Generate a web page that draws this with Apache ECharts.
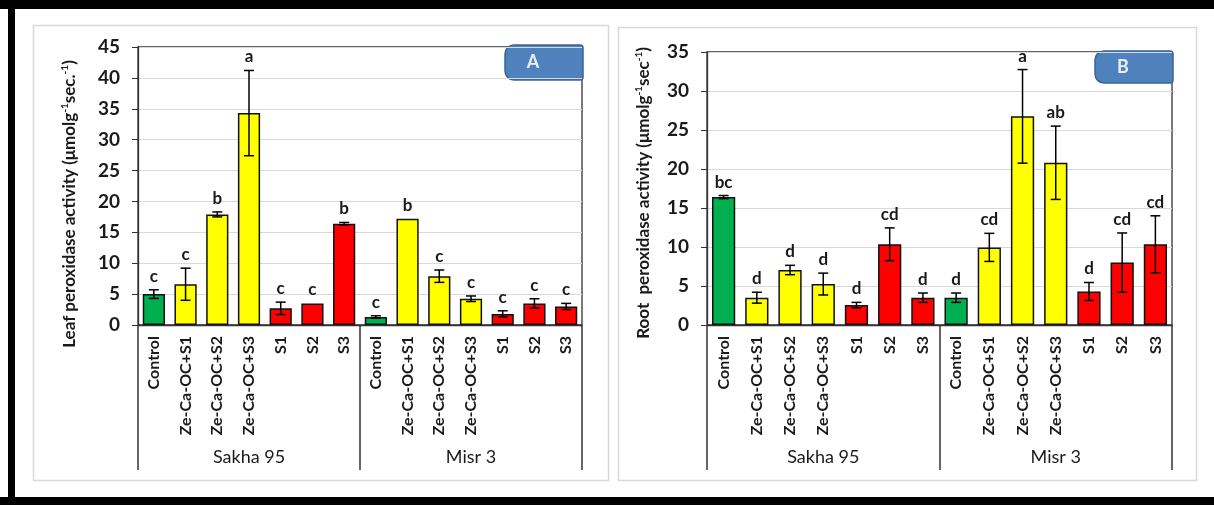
<!DOCTYPE html>
<html>
<head>
<meta charset="utf-8">
<script src="https://cdn.jsdelivr.net/npm/echarts@6/dist/echarts.min.js"></script>
<style>
  html, body { margin: 0; padding: 0; background: #ffffff; }
  #chart { width: 1214px; height: 505px; }
</style>
</head>
<body>
<div id="chart"></div>
<script>
// Treatments within each cultivar, and the two cultivars
const treatments = ['Control', 'Ze-Ca-OC+S1', 'Ze-Ca-OC+S2', 'Ze-Ca-OC+S3', 'S1', 'S2', 'S3'];
const cultivars = ['Sakha 95', 'Misr 3'];
const treatmentColors = ['#00B050', '#FFFF00', '#FFFF00', '#FFFF00', '#FF0000', '#FF0000', '#FF0000'];

// Panel A: leaf peroxidase activity (Sakha 95 then Misr 3)
const leafMean = [5.0, 6.6, 17.9, 34.3, 2.7, 3.5, 16.4, 1.3, 17.2, 7.9, 4.25, 1.8, 3.5, 3.0];
const leafErr = [0.7, 2.6, 0.4, 6.9, 1.0, 0, 0.2, 0.2, 0, 1.0, 0.45, 0.5, 0.75, 0.5];
const leafLetters = ['c', 'c', 'b', 'a', 'c', 'c', 'b', 'c', 'b', 'c', 'c', 'c', 'c', 'c'];
const leafTicks = { min: 0, max: 45, interval: 5 };

// Panel B: root peroxidase activity (Sakha 95 then Misr 3)
const rootMean = [16.4, 3.5, 7.05, 5.25, 2.55, 10.35, 3.5, 3.5, 9.95, 26.75, 20.8, 4.3, 8.0, 10.35];
const rootErr = [0.2, 0.7, 0.6, 1.4, 0.35, 2.1, 0.6, 0.6, 1.8, 6.0, 4.7, 1.15, 3.8, 3.65];
const rootLetters = ['bc', 'd', 'd', 'd', 'd', 'cd', 'd', 'd', 'cd', 'a', 'ab', 'd', 'cd', 'cd'];
const rootTicks = { min: 0, max: 35, interval: 5 };

const categories = cultivars.flatMap(() => treatments);

const FONT = 'Lato, "Liberation Sans", sans-serif';
const DARK = '#333333';
const INK = '#1a1a1a';

function barData(means) {
  return means.map((v, i) => ({
    value: v,
    itemStyle: { color: treatmentColors[i % treatments.length] }
  }));
}

function errorSeries(gridIdx, means, errs, letters) {
  return {
    type: 'custom',
    xAxisIndex: gridIdx * 2,
    yAxisIndex: gridIdx,
    z: 5,
    silent: true,
    encode: { x: 0, y: 1 },
    data: means.map((v, i) => [i, v, errs[i]]),
    renderItem: function (params, api) {
      const idx = api.value(0);
      const mean = api.value(1);
      const err = api.value(2);
      const top = api.coord([idx, mean + err]);
      const bot = api.coord([idx, mean - err]);
      const half = 5;
      const line = { stroke: '#000', lineWidth: 1.5 };
      const children = [];
      if (err > 0) {
        children.push(
          { type: 'line', shape: { x1: top[0], y1: top[1], x2: bot[0], y2: bot[1] }, style: line },
          { type: 'line', shape: { x1: top[0] - half, y1: top[1], x2: top[0] + half, y2: top[1] }, style: line },
          { type: 'line', shape: { x1: bot[0] - half, y1: bot[1], x2: bot[0] + half, y2: bot[1] }, style: line }
        );
      }
      children.push({
        type: 'text',
        style: {
          x: top[0], y: top[1] - 5,
          text: letters[params.dataIndex],
          align: 'center', verticalAlign: 'bottom',
          fill: INK, font: 'bold 17px ' + FONT
        }
      });
      return { type: 'group', children: children };
    }
  };
}

function grids() {
  return [
    { left: 138, right: 632, top: 47, bottom: 180, show: true, borderColor: DARK, borderWidth: 1.3, backgroundColor: 'transparent' },
    { left: 707, right: 42, top: 52, bottom: 180, show: true, borderColor: DARK, borderWidth: 1.3, backgroundColor: 'transparent' }
  ];
}

function xAxes(gridIdx) {
  return [
    {
      type: 'category', gridIndex: gridIdx, data: categories, position: 'bottom',
      axisLine: { show: true, lineStyle: { color: DARK, width: 1.3 } },
      axisTick: { show: false },
      axisLabel: { interval: 0, rotate: 90, margin: 11, color: INK, fontWeight: 'bold', fontSize: 16, fontFamily: FONT }
    },
    {
      type: 'category', gridIndex: gridIdx, data: cultivars, position: 'bottom',
      axisLine: { show: false },
      axisTick: { show: true, length: 145, interval: 0, lineStyle: { color: DARK, width: 1.5 } },
      axisLabel: { interval: 0, margin: 123, color: INK, fontSize: 18, fontFamily: FONT }
    }
  ];
}

function yAxis(gridIdx, t) {
  return {
    type: 'value', gridIndex: gridIdx, min: t.min, max: t.max, interval: t.interval,
    axisLine: { show: true, lineStyle: { color: DARK, width: 1.3 } },
    axisTick: { show: true, length: 6, lineStyle: { color: DARK } },
    axisLabel: { margin: 18, color: INK, fontWeight: 'bold', fontSize: 19, fontFamily: FONT },
    splitLine: { show: true, lineStyle: { color: '#D9D9D9', width: 1 } }
  };
}

function barSeries(gridIdx, means) {
  return {
    type: 'bar', xAxisIndex: gridIdx * 2, yAxisIndex: gridIdx,
    data: barData(means), barWidth: '70%',
    itemStyle: { borderColor: '#111', borderWidth: 1.5 },
    silent: true
  };
}

function titleText(x, y, main, tail) {
  // Rotated axis title with two superscript "-1" exponents
  return {
    type: 'text', x: x, y: y, rotation: Math.PI / 2, silent: true,
    style: {
      text: '{m|' + main + '}{s|-1}{m|' + tail + '}{s|-1}{m|)}',
      align: 'center', verticalAlign: 'middle',
      rich: {
        m: { fontSize: 17, fontWeight: 'bold', fontFamily: FONT, fill: INK, lineHeight: 20 },
        s: { fontSize: 10, fontWeight: 'bold', fontFamily: FONT, fill: INK, lineHeight: 10, verticalAlign: 'top' }
      }
    }
  };
}

function panelTag(x, y, w, h, letter, tx) {
  return {
    type: 'group', silent: true,
    children: [
      { type: 'rect', shape: { x: x, y: y, width: w, height: h, r: [9, 3, 3, 9] },
        style: { fill: '#4F81BD', stroke: '#3B6495', lineWidth: 1.5 } },
      { type: 'text', style: { x: tx, y: y + h / 2, text: letter, align: 'center', verticalAlign: 'middle',
        fill: '#E9EFF8', font: 'bold 18px ' + FONT } }
    ]
  };
}

const chart = echarts.init(document.getElementById('chart'), null, { renderer: 'canvas' });
chart.setOption({
  animation: false,
  backgroundColor: '#ffffff',
  grid: grids(),
  xAxis: xAxes(0).concat(xAxes(1)),
  yAxis: [yAxis(0, leafTicks), yAxis(1, rootTicks)],
  series: [
    barSeries(0, leafMean),
    errorSeries(0, leafMean, leafErr, leafLetters),
    barSeries(1, rootMean),
    errorSeries(1, rootMean, rootErr, rootLetters)
  ],
  graphic: [
    // outer black frame
    { type: 'rect', shape: { x: 0, y: 0, width: 1214, height: 9 }, style: { fill: '#000' }, silent: true },
    { type: 'rect', shape: { x: 8, y: 0, width: 7, height: 505 }, style: { fill: '#000' }, silent: true },
    { type: 'rect', shape: { x: 0, y: 497, width: 1214, height: 8 }, style: { fill: '#000' }, silent: true },
    // light panel frames
    { type: 'rect', shape: { x: 33.5, y: 25.5, width: 575, height: 455 }, style: { fill: 'none', stroke: '#D9D9D9', lineWidth: 1.5 }, silent: true, z: -1 },
    { type: 'rect', shape: { x: 618.5, y: 27.5, width: 578, height: 453 }, style: { fill: 'none', stroke: '#D9D9D9', lineWidth: 1.5 }, silent: true, z: -1 },
    titleText(70, 204, 'Leaf peroxidase activity (\u03bcmolg', 'sec.'),
    titleText(644, 193, 'Root  peroxidase activity (\u03bcmolg', 'sec'),
    panelTag(505, 45, 78, 35, 'A', 533),
    panelTag(1095, 51, 78, 32, 'B', 1123)
  ]
});
</script>
</body>
</html>
